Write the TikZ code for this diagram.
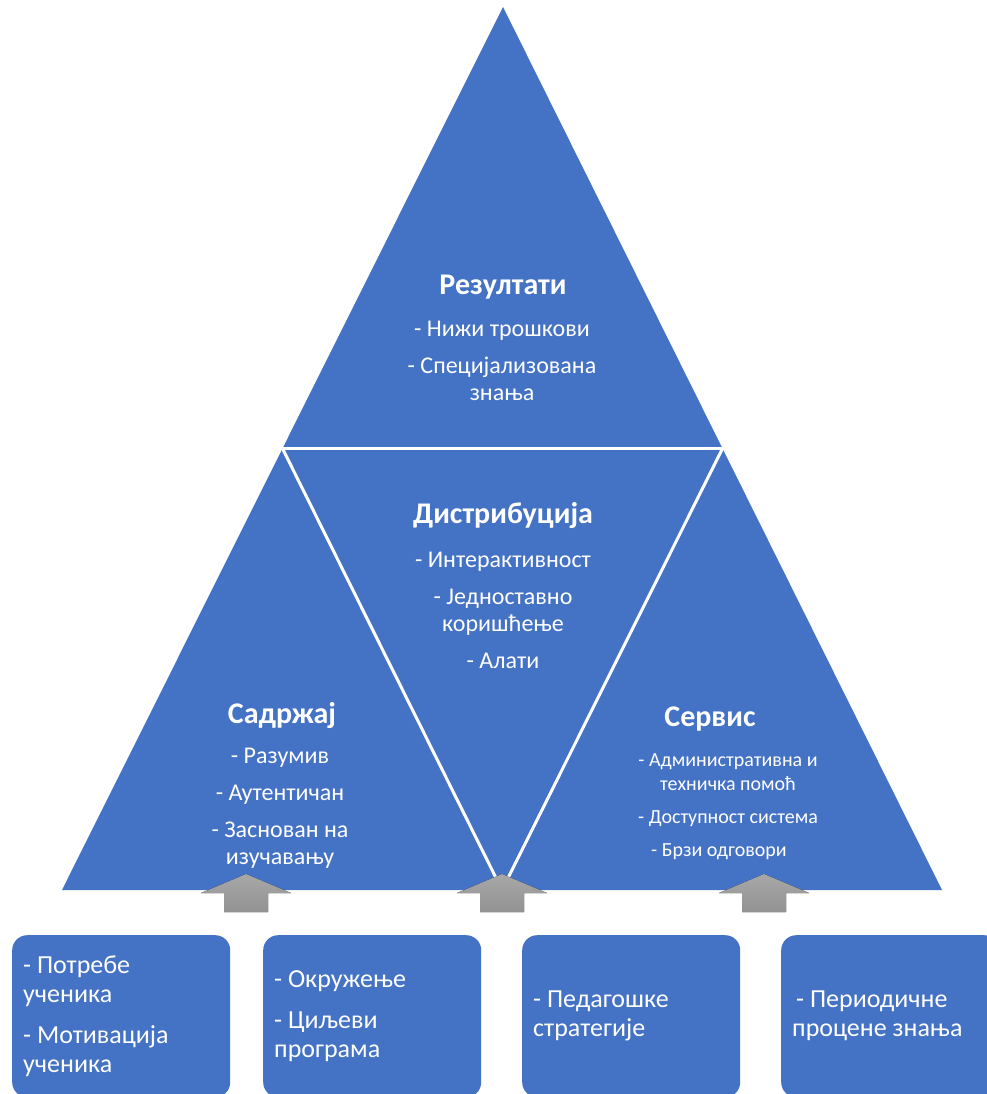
\documentclass[tikz,border=0pt]{standalone}
\usepackage{fontspec}
\setmainfont{Carlito}
\usetikzlibrary{calc}
\definecolor{pyrblue}{HTML}{4472C4}
\definecolor{arrtop}{RGB}{168,168,168}
\definecolor{arrbot}{RGB}{146,146,146}
\tikzset{
  title/.style={text=white, font=\bfseries\fontsize{30}{34}\selectfont, inner sep=0pt},
  items/.style={text=white, align=center, font=\fontsize{24}{27}\selectfont, inner sep=0pt},
  smallitems/.style={text=white, align=center, font=\fontsize{20}{24}\selectfont, inner sep=0pt},
  inbox/.style={fill=pyrblue, rounded corners=15pt, minimum height=162pt, text width=196pt,
    inner xsep=11pt, inner ysep=0pt, align=flush left, text=white,
    font=\fontsize{26}{29}\selectfont, anchor=north west},
  uparrow/.style={top color=arrtop, bottom color=arrbot, draw=none}
}
\newcommand{\plainspaces}{\spaceskip=0pt\xspaceskip=0pt\relax}
\begin{document}
\begin{tikzpicture}[x=1pt, y=-1pt]
\useasboundingbox (0,0) rectangle (987,1094);
\clip (0,0) rectangle (987,1094);

% pyramid corners and split points
\coordinate (apex) at (503,7);
\coordinate (bl) at (62,890);
\coordinate (br) at (942,890);
\coordinate (ml) at ($(apex)!0.5!(bl)$);
\coordinate (mr) at ($(apex)!0.5!(br)$);
\coordinate (bm) at ($(bl)!0.5!(br)$);

\fill[pyrblue] (apex) -- (bl) -- (br) -- cycle;
\draw[white, line width=3pt] (ml) -- (mr);
\draw[white, line width=3pt, line join=miter] (ml) -- (bm) -- (mr);

% labels inside the four triangles
\node[title] (resT) at (503,287) {Резултати};
\node[items] (resI) at (502,361) {- Нижи трошкови\\[10pt]- Специјализована\\знања};

\node[title] (disT) at (503,516) {Дистрибуција};
\node[items] (disI) at (503,610) {- Интерактивност\\[10pt]- Једноставно\\коришћење\\[10pt]- Алати};

\node[title] (sadT) at (282,716) {Садржај};
\node[items] (sadI) at (280,808) {- Разумив\\[10pt]- Аутентичан\\[10pt]- Заснован на\\изучавању};

\node[title] (serT) at (710,719) {Сервис};
\node[smallitems] (serI) at (728,807) {- Административна и\\техничка помоћ\\[9pt]- Доступност система\\[9pt]- Брзи одговори\hspace*{18pt}};

% block arrows pointing up into the pyramid
\foreach \cx/\nm in {246/a1, 502/a2, 764/a3}{
  \coordinate (\nm) at (\cx,874);
  \fill[uparrow] (\nm) -- ++(45,19) -- ++(-23,0) -- ++(0,19) -- ++(-44,0)
    -- ++(0,-19) -- ++(-23,0) -- cycle;
}

% input boxes along the bottom
\node[inbox] (b1) at (12,935) {\plainspaces - Потребе\\ученика\\[12pt]- Мотивација\\ученика};
\node[inbox] (b2) at (263,935) {\plainspaces - Окружење\\[12pt]- Циљеви\\програма};
\node[inbox] (b3) at (522,935) {\plainspaces - Педагошке\\стратегије};
\node[inbox] (b4) at (781,935) {\plainspaces\hspace*{4pt}- Периодичне\\процене знања};
\end{tikzpicture}
\end{document}
